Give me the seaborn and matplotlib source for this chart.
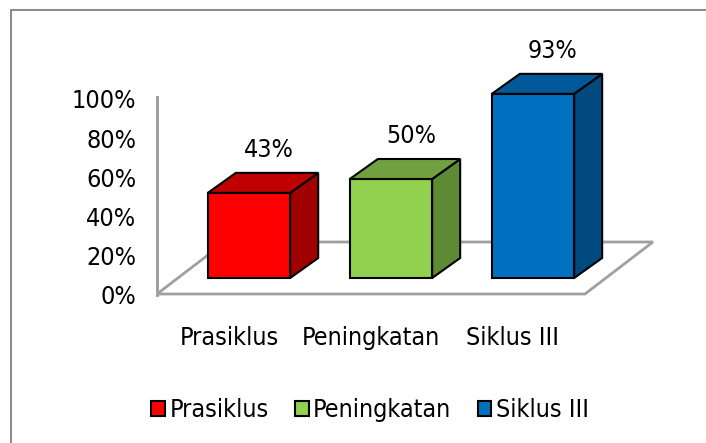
import matplotlib
matplotlib.use("Agg")
import matplotlib.pyplot as plt
import matplotlib.transforms as mtransforms
from matplotlib.patches import Polygon, Patch, Rectangle
from matplotlib.ticker import PercentFormatter
import seaborn as sns

# ---- data ----
categories = ["Prasiklus", "Peningkatan", "Siklus III"]
values = [43, 50, 93]
value_labels = ["43%", "50%", "93%"]
y_ticks = [0, 20, 40, 60, 80, 100]

# ---- styles ----
front_colors = ["#FF0000", "#92D050", "#0070C0"]
top_colors = ["#C00000", "#70A040", "#005898"]
side_colors = ["#A00000", "#5E8A35", "#004A80"]

sns.set_theme(style="white")
plt.rcParams["font.family"] = ["DejaVu Sans"]
plt.rcParams["font.stretch"] = "condensed"
plt.rcParams["text.color"] = "black"
FS = 18

W, H = 706, 443
fig = plt.figure(figsize=(W / 100, H / 100), dpi=100)
fig.patch.set_facecolor("white")

def px_rect(left, top, right, bottom):
    return [left / W, 1 - bottom / H, (right - left) / W, (bottom - top) / H]

rect = px_rect(157, 20, 670, 310)

# tick axis (front plane scale)
ax2 = fig.add_axes(rect)
ax2.set_ylim(-(310 - 294.5) / 1.955, (294.5 - 20) / 1.955)
ax2.set_xlim(0, 1)
ax2.set_yticks(y_ticks)
ax2.yaxis.set_major_formatter(PercentFormatter(decimals=0))
ax2.set_xticks([])
for s in ["top", "right", "bottom"]:
    ax2.spines[s].set_visible(False)
ax2.spines["left"].set_color("#999999")
ax2.spines["left"].set_linewidth(2)
ax2.spines["left"].set_bounds(-0.5, 101)
ax2.tick_params(axis="y", length=0, pad=15, labelsize=FS, labelcolor="black")
ax2.patch.set_alpha(0)

# main axis for bars
ax = fig.add_axes(rect)
ax.patch.set_alpha(0)
sns.barplot(x=categories, y=values, hue=categories, palette=front_colors,
            width=0.58, edgecolor="black", linewidth=1.5, legend=False,
            saturation=1, ax=ax, zorder=3)
ax.set_xlim(-0.648, 2.965)
ax.set_ylim(-(310 - 278) / 1.98, (278 - 20) / 1.98)
for s in ax.spines.values():
    s.set_visible(False)
ax.set_yticks([])
ax.set_xlabel("")
ax.set_ylabel("")
ax.tick_params(axis="x", length=0, pad=11.5, labelsize=FS, labelcolor="black")
shift = mtransforms.ScaledTranslation(-20 / 100, 0, fig.dpi_scale_trans)
for lab in ax.get_xticklabels():
    lab.set_transform(lab.get_transform() + shift)

# floor (in data units of the bar axis)
dx_floor = 68 / 142
fy_front = (278 - 294) / 1.98
fy_back = (278 - 242) / 1.98
fx_left, fx_right = -0.648, 2.366
floor = Polygon([(fx_left, fy_front), (fx_right, fy_front),
                 (fx_right + dx_floor, fy_back), (fx_left + dx_floor, fy_back)],
                closed=True, facecolor="none", edgecolor="#a0a0a0",
                linewidth=2, zorder=1)
ax.add_patch(floor)

# 3D faces of bars
dx = 28 / 142
dy = 20 / 1.98
bars = [p for p in ax.patches if p is not floor][:len(values)]
for i, p in enumerate(bars):
    x0 = p.get_x()
    x1 = x0 + p.get_width()
    h = p.get_height()
    top = Polygon([(x0, h), (x1, h), (x1 + dx, h + dy), (x0 + dx, h + dy)],
                  closed=True, facecolor=top_colors[i], edgecolor="black",
                  linewidth=1.5, zorder=4)
    side = Polygon([(x1, 0), (x1 + dx, dy), (x1 + dx, h + dy), (x1, h)],
                   closed=True, facecolor=side_colors[i], edgecolor="black",
                   linewidth=1.5, zorder=4)
    ax.add_patch(side)
    ax.add_patch(top)
    ax.annotate(value_labels[i], xy=(x0 + p.get_width() / 2, h),
                xytext=(20, 36), textcoords="offset pixels",
                ha="center", va="baseline", fontsize=FS, color="black",
                zorder=5, annotation_clip=False)

# legend
handles = [Patch(facecolor=c, edgecolor="black", linewidth=1.5) for c in front_colors]
fig.legend(handles, categories, loc="center",
           bbox_to_anchor=(370 / W, 1 - 410 / H), ncol=3, frameon=False,
           fontsize=FS, handlelength=0.55, handleheight=0.55,
           handletextpad=0.18, columnspacing=1.05, borderaxespad=0,
           labelcolor="black")

# outer border
fig.patches.append(Rectangle((11 / W, -0.05), 1.2, 1 - 10.5 / H + 0.05,
                             transform=fig.transFigure, facecolor="none",
                             edgecolor="#8c8c8c", linewidth=1.5, zorder=0))

fig.savefig("out.png", dpi=100, facecolor="white")
